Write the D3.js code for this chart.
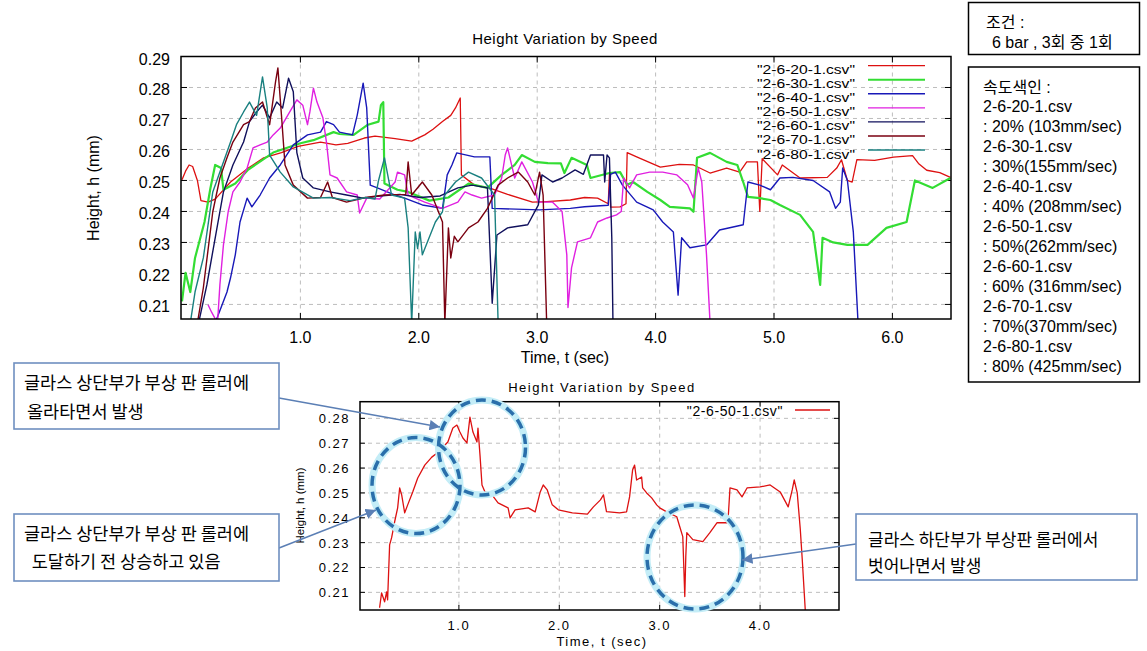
<!DOCTYPE html>
<html><head><meta charset="utf-8">
<script src="https://cdn.jsdelivr.net/npm/d3@7"></script>
<style>
html,body{margin:0;padding:0;background:#fff;}
svg{display:block;}
text{font-family:"Liberation Sans",Arial,"Noto Sans CJK KR",sans-serif;fill:#000;}
.kr{font-family:"Noto Sans CJK KR","Liberation Sans",sans-serif;}
</style>
</head><body>
<svg id="chart" width="1147" height="651"></svg>
<script>
// ---------------- DATA ----------------
const seriesNames = ["2-6-20-1.csv","2-6-30-1.csv","2-6-40-1.csv","2-6-50-1.csv","2-6-60-1.csv","2-6-70-1.csv","2-6-80-1.csv"];
// [time (sec), height (mm)]
const h20 = [[0,0.2502],[0.03,0.253],[0.06,0.255],[0.09,0.2545],[0.13,0.250],[0.16,0.2435],[0.22,0.243],[0.28,0.244],[0.41,0.2495],[0.56,0.254],[0.69,0.2573],[0.84,0.259],[0.98,0.261],[1.17,0.2624],[1.30,0.2615],[1.40,0.262],[1.54,0.2637],[1.63,0.2643],[1.80,0.2635],[1.94,0.2627],[2.05,0.2647],[2.12,0.2665],[2.20,0.269],[2.27,0.271],[2.31,0.2734],[2.35,0.2766],[2.36,0.2518],[2.47,0.2485],[2.60,0.2475],[2.75,0.2455],[2.96,0.243],[3.08,0.2432],[3.28,0.2437],[3.40,0.2445],[3.51,0.2443],[3.60,0.2425],[3.61,0.252],[3.62,0.2414],[3.70,0.2415],[3.75,0.2425],[3.76,0.259],[3.84,0.2576],[4.04,0.2543],[4.20,0.2552],[4.32,0.255],[4.46,0.2524],[4.60,0.254],[4.71,0.2527],[4.77,0.256],[4.86,0.256],[4.88,0.240],[4.90,0.257],[5.03,0.2518],[5.07,0.255],[5.22,0.2508],[5.45,0.251],[5.53,0.254],[5.57,0.2567],[5.62,0.250],[5.66,0.2495],[5.70,0.2567],[5.85,0.2565],[6.01,0.2575],[6.17,0.258],[6.22,0.2555],[6.29,0.2533],[6.40,0.2525],[6.49,0.251]];
const h30 = [[0,0.211],[0.03,0.2202],[0.07,0.214],[0.11,0.225],[0.19,0.2366],[0.24,0.2475],[0.28,0.255],[0.33,0.254],[0.35,0.247],[0.45,0.249],[0.56,0.2535],[0.77,0.259],[1.0,0.262],[1.11,0.263],[1.28,0.2656],[1.33,0.265],[1.45,0.2647],[1.57,0.268],[1.66,0.269],[1.68,0.2743],[1.70,0.2753],[1.71,0.249],[1.82,0.247],[1.91,0.2463],[2.09,0.2435],[2.25,0.2445],[2.42,0.249],[2.58,0.2476],[2.70,0.2518],[2.81,0.255],[2.87,0.2582],[2.98,0.256],[3.09,0.2556],[3.20,0.2555],[3.23,0.2524],[3.29,0.2573],[3.42,0.255],[3.45,0.2508],[3.61,0.2524],[3.70,0.2527],[3.76,0.2486],[3.81,0.2495],[3.93,0.2463],[4.04,0.2437],[4.12,0.2415],[4.29,0.241],[4.32,0.2399],[4.35,0.2573],[4.46,0.2589],[4.60,0.256],[4.69,0.255],[4.74,0.2495],[4.78,0.2447],[4.88,0.2443],[4.97,0.2437],[5.05,0.2421],[5.22,0.2389],[5.33,0.2334],[5.39,0.2163],[5.41,0.2315],[5.50,0.230],[5.62,0.2292],[5.79,0.2292],[5.95,0.2347],[6.12,0.2366],[6.19,0.250],[6.34,0.2476],[6.49,0.2508]];
const h40 = [[0.28,0.204],[0.38,0.214],[0.41,0.2186],[0.45,0.226],[0.49,0.2366],[0.55,0.2443],[0.59,0.2415],[0.66,0.2453],[0.74,0.2508],[0.83,0.255],[0.94,0.2615],[1.06,0.2647],[1.17,0.2656],[1.22,0.269],[1.28,0.268],[1.33,0.2656],[1.44,0.2647],[1.48,0.2711],[1.53,0.2814],[1.56,0.2734],[1.59,0.2485],[1.65,0.2476],[1.80,0.2453],[1.88,0.2443],[2.03,0.2421],[2.20,0.241],[2.24,0.2518],[2.28,0.255],[2.32,0.2589],[2.47,0.2576],[2.60,0.2576],[2.62,0.241],[3.02,0.2405],[3.28,0.241],[3.40,0.2415],[3.60,0.242],[3.62,0.252],[3.66,0.2527],[3.72,0.2485],[3.84,0.243],[3.98,0.2405],[4.06,0.2366],[4.15,0.2334],[4.19,0.213],[4.22,0.2315],[4.29,0.2283],[4.43,0.2292],[4.54,0.234],[4.74,0.2357],[4.78,0.2495],[4.88,0.2485],[4.97,0.247],[5.05,0.2508],[5.16,0.251],[5.33,0.250],[5.47,0.2463],[5.52,0.241],[5.56,0.243],[5.58,0.254],[5.62,0.250],[5.67,0.2334],[5.71,0.204]];
const h50 = [[0.22,0.2099],[0.25,0.2075],[0.30,0.204],[0.32,0.2163],[0.35,0.2292],[0.39,0.2399],[0.43,0.2463],[0.49,0.2495],[0.55,0.254],[0.60,0.2605],[0.66,0.2615],[0.72,0.2624],[0.77,0.2647],[0.83,0.2669],[0.91,0.2721],[0.97,0.276],[1.02,0.2743],[1.06,0.268],[1.08,0.2721],[1.11,0.2798],[1.14,0.2753],[1.19,0.2702],[1.22,0.2624],[1.25,0.2518],[1.31,0.2508],[1.39,0.2463],[1.48,0.2453],[1.50,0.2395],[1.56,0.2443],[1.67,0.244],[1.80,0.2495],[1.82,0.2527],[1.88,0.2518],[1.91,0.2453],[2.05,0.243],[2.20,0.241],[2.33,0.243],[2.39,0.2463],[2.45,0.2453],[2.53,0.2443],[2.64,0.2453],[2.70,0.2508],[2.73,0.2582],[2.75,0.2605],[2.79,0.254],[2.81,0.2508],[2.87,0.256],[2.96,0.2495],[3.01,0.243],[3.13,0.243],[3.21,0.240],[3.25,0.226],[3.26,0.209],[3.29,0.2218],[3.34,0.2302],[3.45,0.2315],[3.51,0.2366],[3.59,0.2379],[3.67,0.2389],[3.71,0.240],[3.73,0.2508],[3.78,0.2476],[3.84,0.2518],[3.95,0.2527],[4.06,0.2527],[4.18,0.2518],[4.27,0.2486],[4.32,0.2443],[4.36,0.254],[4.39,0.2495],[4.43,0.226],[4.46,0.204]];
const h60 = [[0.14,0.204],[0.21,0.2163],[0.30,0.2357],[0.35,0.2463],[0.43,0.255],[0.52,0.2624],[0.57,0.269],[0.63,0.2721],[0.68,0.2743],[0.74,0.2702],[0.80,0.2753],[0.85,0.2734],[0.90,0.283],[0.94,0.2786],[0.97,0.259],[1.02,0.2508],[1.11,0.2476],[1.25,0.2463],[1.39,0.2453],[1.53,0.2443],[1.67,0.245],[1.84,0.2455],[2.01,0.2445],[2.18,0.245],[2.33,0.2476],[2.45,0.2485],[2.58,0.2476],[2.62,0.2104],[2.66,0.2324],[2.75,0.2347],[2.92,0.2357],[3.01,0.2421],[3.04,0.2518],[3.13,0.2495],[3.21,0.2508],[3.32,0.2534],[3.39,0.252],[3.45,0.2582],[3.56,0.2582],[3.57,0.2495],[3.59,0.2582],[3.61,0.2573],[3.63,0.2315],[3.64,0.204]];
const h70 = [[0.13,0.204],[0.18,0.2153],[0.26,0.2399],[0.32,0.2508],[0.38,0.2573],[0.43,0.2624],[0.52,0.268],[0.57,0.269],[0.62,0.2734],[0.68,0.2753],[0.74,0.268],[0.79,0.2818],[0.81,0.2863],[0.84,0.2711],[0.87,0.255],[0.94,0.2485],[1.06,0.2443],[1.17,0.2445],[1.23,0.2495],[1.27,0.2445],[1.39,0.243],[1.55,0.2445],[1.71,0.2453],[1.89,0.2455],[1.91,0.256],[1.94,0.2453],[2.03,0.2495],[2.11,0.2453],[2.20,0.2366],[2.22,0.204],[2.25,0.2347],[2.27,0.225],[2.30,0.232],[2.33,0.2302],[2.42,0.2347],[2.50,0.2366],[2.58,0.241],[2.67,0.2485],[2.75,0.2508],[2.84,0.2527],[2.92,0.2495],[2.98,0.2453],[3.02,0.2527],[3.05,0.2453],[3.08,0.204]];
const h80 = [[0.07,0.204],[0.11,0.214],[0.18,0.225],[0.26,0.2463],[0.32,0.2527],[0.41,0.2624],[0.46,0.268],[0.52,0.2721],[0.57,0.2753],[0.63,0.271],[0.68,0.2834],[0.72,0.2734],[0.74,0.2582],[0.83,0.2527],[0.94,0.2479],[1.11,0.2443],[1.25,0.2445],[1.42,0.2435],[1.55,0.2445],[1.63,0.244],[1.66,0.250],[1.71,0.2573],[1.77,0.2453],[1.88,0.2443],[1.91,0.2347],[1.94,0.204],[1.97,0.2334],[1.99,0.228],[2.01,0.2334],[2.03,0.226],[2.14,0.2366],[2.20,0.2399],[2.22,0.2453],[2.31,0.2495],[2.42,0.2527],[2.53,0.2508],[2.64,0.2453],[2.67,0.204]];
const topSeries = [h20,h30,h40,h50,h60,h70,h80];

const detailName = "2-6-50-1.csv";
const hDetail = [[0.21,0.2038],[0.23,0.2098],[0.26,0.2062],[0.28,0.2102],[0.29,0.207],[0.31,0.2291],[0.33,0.232],[0.36,0.2384],[0.39,0.244],[0.41,0.252],[0.43,0.2492],[0.46,0.242],[0.49,0.2452],[0.54,0.2504],[0.59,0.256],[0.66,0.2612],[0.73,0.2644],[0.78,0.266],[0.83,0.268],[0.89,0.2705],[0.94,0.2761],[0.98,0.2773],[1.01,0.2745],[1.04,0.2721],[1.08,0.2701],[1.11,0.2805],[1.14,0.2745],[1.18,0.2705],[1.19,0.2761],[1.21,0.2653],[1.23,0.2532],[1.26,0.2504],[1.33,0.2492],[1.39,0.246],[1.49,0.244],[1.51,0.240],[1.56,0.2432],[1.69,0.244],[1.76,0.2424],[1.81,0.2504],[1.84,0.2532],[1.88,0.2512],[1.93,0.2452],[1.99,0.2432],[2.13,0.242],[2.28,0.2415],[2.34,0.2444],[2.41,0.2472],[2.44,0.2492],[2.47,0.2425],[2.60,0.242],[2.67,0.2424],[2.70,0.2484],[2.73,0.2592],[2.75,0.2612],[2.77,0.2552],[2.82,0.2564],[2.83,0.252],[2.87,0.250],[2.92,0.248],[2.97,0.2452],[3.00,0.244],[3.07,0.2424],[3.17,0.2404],[3.20,0.2364],[3.23,0.2324],[3.25,0.2083],[3.26,0.2244],[3.27,0.234],[3.33,0.2312],[3.43,0.2304],[3.50,0.234],[3.57,0.238],[3.67,0.238],[3.68,0.2384],[3.70,0.252],[3.77,0.2512],[3.82,0.2484],[3.87,0.252],[4.00,0.2524],[4.10,0.2532],[4.20,0.2504],[4.28,0.2444],[4.32,0.2512],[4.34,0.2552],[4.37,0.250],[4.40,0.2356],[4.42,0.2232],[4.45,0.2029]];

const topYTicks = [0.21,0.22,0.23,0.24,0.25,0.26,0.27,0.28,0.29];
const topXTicks = [1,2,3,4,5,6];
const botYTicks = [0.21,0.22,0.23,0.24,0.25,0.26,0.27,0.28];
const botXTicks = [1,2,3,4];

const chartTitle = "Height Variation by Speed";
const xTitle = "Time, t (sec)";
const yTitle = "Height, h (mm)";

const conditionLines = ["조건 :", "6 bar , 3회 중 1회"];
const speedIndexLines = ["속도색인 :","2-6-20-1.csv",": 20% (103mm/sec)","2-6-30-1.csv",": 30%(155mm/sec)","2-6-40-1.csv",": 40% (208mm/sec)","2-6-50-1.csv",": 50%(262mm/sec)","2-6-60-1.csv",": 60% (316mm/sec)","2-6-70-1.csv",": 70%(370mm/sec)","2-6-80-1.csv",": 80% (425mm/sec)"];
const noteA = ["글라스 상단부가 부상 판 롤러에", "올라타면서 발생"];
const noteB = ["글라스 상단부가 부상 판 롤러에", "도달하기 전 상승하고 있음"];
const noteC = ["글라스 하단부가 부상판 롤러에서", "벗어나면서 발생"];

// ---------------- STYLE ----------------
const colors = ["#dd1111","#33dd33","#1818b8","#e020e0","#10105c","#7a0010","#1a8080"];
const widths = [1.3,2.2,1.4,1.4,1.4,1.4,1.4];

const svg = d3.select("#chart");
svg.append("rect").attr("width",1147).attr("height",651).attr("fill","#fff");

function drawFrame(g, P, xs, ys, xt, yt, opt){
  g.append("g").selectAll("line").data(yt.filter(v=>ys(v)>P.t+1)).join("line")
    .attr("x1",P.l).attr("x2",P.r).attr("y1",d=>ys(d)).attr("y2",d=>ys(d))
    .attr("stroke","#bdbdbd").attr("stroke-width",1).attr("stroke-dasharray","4,4");
  g.append("g").selectAll("line").data(xt).join("line")
    .attr("y1",P.t).attr("y2",P.b).attr("x1",d=>xs(d)).attr("x2",d=>xs(d))
    .attr("stroke","#bdbdbd").attr("stroke-width",1).attr("stroke-dasharray","4,4");
  const tl = opt.tick;
  const tk = g.append("g").attr("stroke","#000").attr("stroke-width",1);
  yt.forEach(v=>{const y=ys(v);
    tk.append("line").attr("x1",P.l).attr("x2",P.l+tl).attr("y1",y).attr("y2",y);
    tk.append("line").attr("x1",P.r).attr("x2",P.r-tl).attr("y1",y).attr("y2",y);});
  xt.forEach(v=>{const x=xs(v);
    tk.append("line").attr("x1",x).attr("x2",x).attr("y1",P.b).attr("y2",P.b-tl);
    tk.append("line").attr("x1",x).attr("x2",x).attr("y1",P.t).attr("y2",P.t+tl);});
  g.append("g").selectAll("text").data(yt).join("text")
    .attr("x",P.l-opt.ylabGap).attr("y",d=>ys(d)+opt.ylabDy).attr("text-anchor","end")
    .style("font-size",opt.fs+"px").style("letter-spacing",opt.ls+"px").text(d3.format(".2f"));
  g.append("g").selectAll("text").data(xt).join("text")
    .attr("x",d=>xs(d)).attr("y",opt.xlabY).attr("text-anchor","middle")
    .style("font-size",opt.fs+"px").style("letter-spacing",opt.ls+"px").text(d3.format(".1f"));
}

// ---------------- TOP CHART ----------------
const P1 = {l:181,t:56.5,r:951,b:319};
const x1 = d3.scaleLinear().domain([0,6.5]).range([182,951.6]);
const y1 = d3.scaleLinear().domain([0.2053,0.29]).range([319,56.5]);
const g1 = svg.append("g");
drawFrame(g1,P1,x1,y1,topXTicks,topYTicks,{tick:6,ylabGap:11,ylabDy:8,fs:16,ls:0,xlabY:343});
svg.append("clipPath").attr("id","c1").append("rect").attr("x",P1.l).attr("y",P1.t).attr("width",P1.r-P1.l).attr("height",P1.b-P1.t);
const line1 = d3.line().x(d=>x1(d[0])).y(d=>y1(d[1]));
const lg1 = g1.append("g").attr("clip-path","url(#c1)");
topSeries.forEach((s,i)=>{
  lg1.append("path").attr("d",line1(s)).attr("fill","none").attr("stroke",colors[i]).attr("stroke-width",widths[i]).attr("stroke-linejoin","round");
});
g1.append("rect").attr("x",P1.l).attr("y",P1.t).attr("width",P1.r-P1.l).attr("height",P1.b-P1.t).attr("fill","none").attr("stroke","#000").attr("stroke-width",1.5);
seriesNames.forEach((n,i)=>{
  const ly = 65.7 + i*14.05;
  g1.append("text").attr("x",757).attr("y",ly+8.5)
    .attr("textLength",98).attr("lengthAdjust","spacingAndGlyphs")
    .style("font-size","12px").text('"'+n+'"');
  g1.append("line").attr("x1",868).attr("x2",925).attr("y1",ly).attr("y2",ly).attr("stroke",colors[i]).attr("stroke-width",widths[i]);
});
g1.append("text").attr("x",565).attr("y",44).attr("text-anchor","middle").style("font-size","15px").style("letter-spacing","0.5px").text(chartTitle);
g1.append("text").attr("x",565).attr("y",363).attr("text-anchor","middle").style("font-size","16px").text(xTitle);
g1.append("text").attr("transform","translate(99,188) rotate(-90)").attr("text-anchor","middle").style("font-size","16px").text(yTitle);

// ---------------- BOTTOM CHART ----------------
const P2 = {l:360,t:401.7,r:839,b:610};
const x2 = d3.scaleLinear().domain([0,4.78]).range([358.5,838.4]);
const y2 = d3.scaleLinear().domain([0.2029,0.2867]).range([610,401.7]);
const g2 = svg.append("g");
drawFrame(g2,P2,x2,y2,botXTicks,botYTicks,{tick:5,ylabGap:10,ylabDy:5,fs:13,ls:1.5,xlabY:630});
svg.append("clipPath").attr("id","c2").append("rect").attr("x",P2.l).attr("y",P2.t).attr("width",P2.r-P2.l).attr("height",P2.b-P2.t);
const line2 = d3.line().x(d=>x2(d[0])).y(d=>y2(d[1]));
g2.append("g").attr("clip-path","url(#c2)").append("path").attr("d",line2(hDetail)).attr("fill","none").attr("stroke","#dd1111").attr("stroke-width",1.3).attr("stroke-linejoin","round");
g2.append("rect").attr("x",P2.l).attr("y",P2.t).attr("width",P2.r-P2.l).attr("height",P2.b-P2.t).attr("fill","none").attr("stroke","#000").attr("stroke-width",1.5);
g2.append("text").attr("x",783).attr("y",416).attr("text-anchor","end").style("font-size","14px").style("letter-spacing","0.6px").text('"'+detailName+'"');
g2.append("line").attr("x1",795).attr("x2",830).attr("y1",410).attr("y2",410).attr("stroke","#dd1111").attr("stroke-width",1.3);
g2.append("text").attr("x",602).attr("y",391.5).attr("text-anchor","middle").style("font-size","13px").style("letter-spacing","1.5px").text(chartTitle);
g2.append("text").attr("x",602).attr("y",646).attr("text-anchor","middle").style("font-size","13px").style("letter-spacing","1.5px").text(xTitle);
g2.append("text").attr("transform","translate(304,505.5) rotate(-90)").attr("text-anchor","middle").style("font-size","11.5px").text(yTitle);

// ---------------- ANNOTATIONS ----------------
const ann = svg.append("g");
const defs = svg.append("defs");
defs.append("marker").attr("id","ah").attr("viewBox","0 0 10 10").attr("refX",10).attr("refY",5)
  .attr("markerWidth",7).attr("markerHeight",7).attr("orient","auto-start-reverse")
  .append("path").attr("d","M0,0 L10,5 L0,10 z").attr("fill","#5b7fb5");
const circles = [{cx:416,cy:485.5,rx:44,ry:48},{cx:482,cy:447.5,rx:43.5,ry:47.5},{cx:695,cy:557,rx:48,ry:52}];
circles.forEach(c=>{
  ann.append("ellipse").attr("cx",c.cx).attr("cy",c.cy).attr("rx",c.rx).attr("ry",c.ry).attr("fill","none").attr("stroke","#c4edf7").attr("stroke-width",7);
});
circles.forEach(c=>{
  ann.append("ellipse").attr("cx",c.cx).attr("cy",c.cy).attr("rx",c.rx).attr("ry",c.ry).attr("fill","none").attr("stroke","#2a6fab").attr("stroke-width",3.5).attr("stroke-dasharray","10,6");
});
const arrows = [[279,398,440,427],[279,548,376,510],[856,544,742,560]];
arrows.forEach(a=>{
  ann.append("line").attr("x1",a[0]).attr("y1",a[1]).attr("x2",a[2]).attr("y2",a[3]).attr("stroke","#5b7fb5").attr("stroke-width",1.5).attr("marker-end","url(#ah)");
});
function noteBox(x,y,w,h,lines,xs,ys,fs){
  ann.append("rect").attr("x",x).attr("y",y).attr("width",w).attr("height",h).attr("fill","#fff").attr("stroke","#6f8fc0").attr("stroke-width",1.6);
  lines.forEach((t,i)=>{
    ann.append("text").attr("class","kr").attr("x",xs[i]).attr("y",ys[i]).attr("dominant-baseline","central").style("font-size",fs+"px").text(t);
  });
}
noteBox(14,363,265,66,noteA,[24,27],[381.7,410],17.5);
noteBox(14,514,265,67,noteB,[24,31.7],[532.7,560],17.5);
noteBox(856,514,281,66,noteC,[868,868],[538,564],17);

// ---------------- RIGHT INFO BOXES ----------------
const info = svg.append("g");
info.append("rect").attr("x",968.5).attr("y",2.5).attr("width",171).attr("height",52).attr("fill","#fff").attr("stroke","#000").attr("stroke-width",1.5);
info.append("text").attr("x",986).attr("y",27.5).style("font-size","16px").text(conditionLines[0]);
info.append("text").attr("x",992).attr("y",47.5).style("font-size","16px").text(conditionLines[1]);
info.append("rect").attr("x",968.5).attr("y",67).attr("width",171).attr("height",315).attr("fill","#fff").attr("stroke","#000").attr("stroke-width",1.5);
speedIndexLines.forEach((t,i)=>{
  info.append("text").attr("x",983).attr("y",87+i*19.93+5.5).style("font-size","16px").text(t);
});
</script>
</body></html>
